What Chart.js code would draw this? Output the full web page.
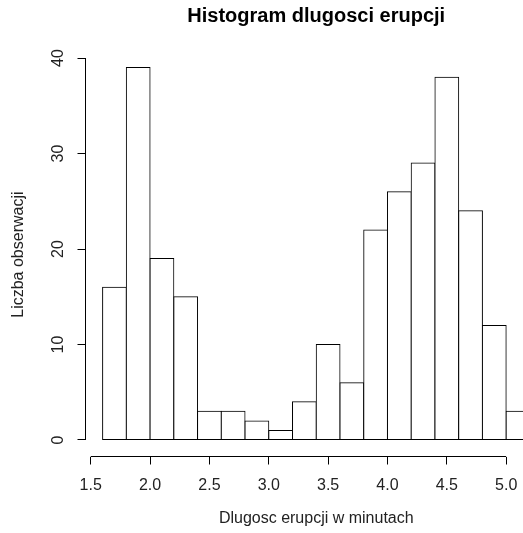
<!DOCTYPE html>
<html>
<head>
<meta charset="utf-8">
<script src="https://cdn.jsdelivr.net/npm/chart.js@4"></script>
<style>
  html, body { margin: 0; background: #fff; overflow: hidden; }
  canvas { display: block; }
</style>
</head>
<body>
<!-- plot region runs past the right edge of the 523px window, like the cropped original -->
<canvas id="hist" width="547" height="533"></canvas>
<script>
// bin edges and counts (eruption length, minutes)
const breaks = [1.6, 1.8, 2.0, 2.2, 2.4, 2.6, 2.8, 3.0, 3.2, 3.4, 3.6, 3.8, 4.0, 4.2, 4.4, 4.6, 4.8, 5.0, 5.2];
const counts = [16, 39, 19, 15, 3, 3, 2, 1, 4, 10, 6, 22, 26, 29, 38, 24, 12, 3];
const xTicks = [1.5, 2.0, 2.5, 3.0, 3.5, 4.0, 4.5, 5.0];
const yTicks = [0, 10, 20, 30, 40];

const bins = counts.map((c, i) => ({ x: (breaks[i] + breaks[i + 1]) / 2, y: c }));

Chart.defaults.font.family = "'Liberation Sans', Arial, sans-serif";
Chart.defaults.font.size = 16;
Chart.defaults.color = "#222";

// R style axis line: only from first to last tick
const axisLines = {
  id: "axisLines",
  afterDraw(chart) {
    const { ctx, chartArea, scales: { x, y } } = chart;
    ctx.save();
    ctx.strokeStyle = "#000";
    ctx.lineWidth = 1;
    ctx.beginPath();
    ctx.moveTo(x.getPixelForValue(xTicks[0]), chartArea.bottom);
    ctx.lineTo(x.getPixelForValue(xTicks[xTicks.length - 1]), chartArea.bottom);
    ctx.moveTo(chartArea.left, y.getPixelForValue(yTicks[0]));
    ctx.lineTo(chartArea.left, y.getPixelForValue(yTicks[yTicks.length - 1]));
    ctx.stroke();
    ctx.restore();
  }
};

let histChart = new Chart(document.getElementById("hist").getContext("2d"), {
  type: "bar",
  data: {
    datasets: [{
      data: bins,
      backgroundColor: "#fff",
      borderColor: "#000",
      borderWidth: 1,
      borderSkipped: false,
      inflateAmount: 0.5,
      barPercentage: 1,
      categoryPercentage: 1,
    }],
  },
  options: {
    responsive: false,
    animation: false,
    devicePixelRatio: 1,
    layout: { padding: 0 },
    plugins: {
      legend: { display: false },
      tooltip: { enabled: false },
      title: {
        display: true,
        fullSize: false,
        text: "Histogram dlugosci erupcji",
        color: "#000",
        font: { size: 20, weight: "bold" },
        padding: { top: 4, bottom: 24.7 },
      },
    },
    scales: {
      x: {
        type: "linear",
        min: 1.456,
        max: 5.344,
        offset: false,
        afterBuildTicks: (s) => { s.ticks = xTicks.map((v) => ({ value: v })); },
        afterFit: (s) => { s.height = 76.5; },
        ticks: { autoSkip: false, padding: 11.4, callback: (v) => Number(v).toFixed(1) },
        grid: { offset: false, drawOnChartArea: false, drawTicks: true, tickLength: 8, color: "#000" },
        border: { display: false },
        title: { display: true, text: "Dlugosc erupcji w minutach", padding: { top: 0, bottom: 4.4 } },
      },
      y: {
        min: -1.73,
        max: 40.56,
        afterBuildTicks: (s) => { s.ticks = yTicks.map((v) => ({ value: v })); },
        afterFit: (s) => { s.width = 85.5; },
        ticks: { minRotation: 90, maxRotation: 90, crossAlign: "center", padding: 9.6 },
        grid: { drawOnChartArea: false, drawTicks: true, tickLength: 8, color: "#000" },
        border: { display: false },
        title: { display: true, text: "Liczba obserwacji", padding: { top: 8.7, bottom: 0 } },
      },
    },
  },
  plugins: [axisLines],
});
</script>
</body>
</html>
